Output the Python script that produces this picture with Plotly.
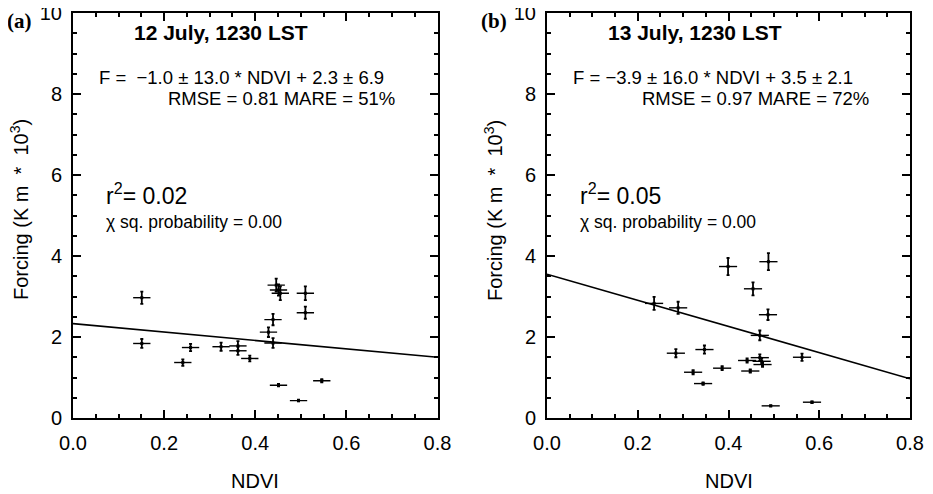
import plotly.graph_objects as go

# ---- data ----
ndvi_a = [0.151, 0.151, 0.241, 0.258, 0.325, 0.362, 0.362, 0.388, 0.429, 0.439,
          0.439, 0.446, 0.451, 0.455, 0.451, 0.495, 0.510, 0.510, 0.546]
force_a = [2.97, 1.84, 1.37, 1.74, 1.76, 1.78, 1.66, 1.47, 2.12, 2.43,
           1.85, 3.28, 3.16, 3.08, 0.81, 0.43, 3.08, 2.60, 0.92]
yerr_a = [0.15, 0.11, 0.08, 0.09, 0.10, 0.12, 0.10, 0.07, 0.12, 0.14,
          0.12, 0.16, 0.14, 0.17, 0.03, 0.02, 0.17, 0.15, 0.04]
xerr_a = [0.019] * len(ndvi_a)

ndvi_b = [0.236, 0.289, 0.284, 0.322, 0.347, 0.344, 0.386, 0.399, 0.441, 0.448,
          0.454, 0.469, 0.469, 0.473, 0.475, 0.487, 0.488, 0.493, 0.562, 0.584]
force_b = [2.83, 2.72, 1.60, 1.13, 1.69, 0.85, 1.23, 3.74, 1.42, 1.16,
           3.19, 2.04, 1.49, 1.40, 1.32, 2.55, 3.86, 0.30, 1.50, 0.39]
yerr_b = [0.16, 0.15, 0.10, 0.05, 0.10, 0.03, 0.05, 0.21, 0.05, 0.04,
          0.16, 0.12, 0.08, 0.07, 0.06, 0.13, 0.21, 0.01, 0.09, 0.02]
xerr_b = [0.02] * len(ndvi_b)

fit_x = [0.0, 0.8]
fit_a = [2.33, 1.50]
fit_b = [3.55, 0.97]

x_ticks = [0.0, 0.2, 0.4, 0.6, 0.8]
y_ticks = [0, 2, 4, 6, 8, 10]

W, H = 933, 494
OFF = 8  # page body margin
def px(x): return (x - OFF) / W
def py(y): return 1 - (y - OFF) / H

fig = go.Figure()

for (xs, ys, xe, ye, fy, ax) in [(ndvi_a, force_a, xerr_a, yerr_a, fit_a, ""),
                                 (ndvi_b, force_b, xerr_b, yerr_b, fit_b, "2")]:
    fig.add_trace(go.Scatter(
        x=xs, y=ys, mode="markers",
        marker=dict(color="black", size=3, symbol="square"),
        error_x=dict(type="data", array=xe, color="black", thickness=1.4, width=0),
        error_y=dict(type="data", array=ye, color="black", thickness=1.8, width=1.5),
        xaxis="x" + ax, yaxis="y" + ax, showlegend=False, cliponaxis=False))
    fig.add_trace(go.Scatter(
        x=fit_x, y=fy, mode="lines", line=dict(color="black", width=1.6),
        xaxis="x" + ax, yaxis="y" + ax, showlegend=False))

sans = "Liberation Sans, Arial, sans-serif"
serif = "Liberation Serif, Times New Roman, serif"
font_tick = dict(family=sans, size=20, color="black")
axis_common = dict(showline=True, linecolor="black", linewidth=2, mirror="ticks",
                   ticks="inside", ticklen=8, tickwidth=1.5, tickcolor="black",
                   showgrid=False, zeroline=False, tickfont=font_tick, automargin=False,
                   ticklabeloverflow="allow",
                   minor=dict(ticks="inside", ticklen=4, tickwidth=1.5, tickcolor="black"))

xa = dict(axis_common, range=[0, 0.8], tickvals=x_ticks,
          ticktext=[f"{v:.1f}" for v in x_ticks], minor_dtick=0.05, ticklabelstandoff=6)
ya = dict(axis_common, range=[0, 10], tickvals=y_ticks,
          ticktext=[str(v) for v in y_ticks], minor_dtick=0.5, ticklabelstandoff=5)

fig.update_layout(
    width=W, height=H,
    margin=dict(l=0, r=0, t=0, b=0),
    paper_bgcolor="white", plot_bgcolor="white",
    xaxis=dict(xa, domain=[px(73), px(437.5)], anchor="y"),
    yaxis=dict(ya, domain=[py(418), py(13)], anchor="x"),
    xaxis2=dict(xa, domain=[px(547), px(910)], anchor="y2"),
    yaxis2=dict(ya, domain=[py(418), py(13)], anchor="x2"),
)

panels = [
    (0, "(a)", "12 July, 1230 LST", "F =  \u22121.0 \u00b1 13.0 * NDVI + 2.3 \u00b1 6.9",
     "RMSE = 0.81 MARE = 51%", "r<sup>2</sup>= 0.02"),
    (474, "(b)", "13 July, 1230 LST", "F = \u22123.9 \u00b1 16.0 * NDVI + 3.5 \u00b1 2.1",
     "RMSE = 0.97 MARE = 72%", "r<sup>2</sup>= 0.05"),
]
ytitle = "Forcing (K m\u00a0\u00a0*\u00a0\u00a010<sup>3</sup>)"
for dx, lab, title, eq, rmse, r2 in panels:
    fig.add_annotation(x=px(6 + dx), y=py(8), xref="paper", yref="paper",
                       text=f"<b>{lab}</b>", showarrow=False,
                       font=dict(family=serif, size=21, color="black"),
                       xanchor="left", yanchor="top", borderpad=0)
    ann = [
        (133 + dx, 32, title, dict(family=sans, size=21, color="black"), True),
        (98 + dx, 77, eq, dict(family=sans, size=18.5, color="black"), False),
        (167 + dx, 98, rmse, dict(family=sans, size=18.5, color="black"), False),
        (105 + dx, 194, r2, dict(family=sans, size=23, color="black"), False),
        (105 + dx, 222, "\u03c7 sq. probability = 0.00", dict(family=sans, size=17.5, color="black"), False),
    ]
    for x, y, t, f, bold in ann:
        fig.add_annotation(x=px(x), y=py(y), xref="paper", yref="paper",
                           text=f"<b>{t}</b>" if bold else t, showarrow=False,
                           font=f, xanchor="left", yanchor="middle", borderpad=0)
    # axis titles
    fig.add_annotation(x=px(19 + dx), y=py(210), xref="paper", yref="paper",
                       text=ytitle, showarrow=False, textangle=-90,
                       font=dict(family=sans, size=20, color="black"),
                       xanchor="center", yanchor="middle", borderpad=0)
    fig.add_annotation(x=px(255 + dx), y=py(481), xref="paper", yref="paper",
                       text="NDVI", showarrow=False,
                       font=dict(family=sans, size=20, color="black"),
                       xanchor="center", yanchor="middle", borderpad=0)

fig.write_html("out.html")
